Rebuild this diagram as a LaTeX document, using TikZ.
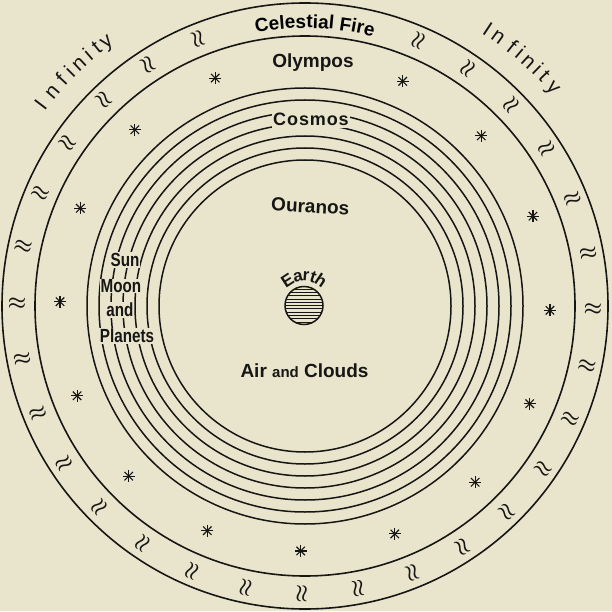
\documentclass[tikz,border=0pt]{standalone}
\usepackage{fontspec}
\setmainfont{Liberation Sans}
\newfontfamily\narrowfont[FakeStretch=0.8]{Liberation Sans}
\usetikzlibrary{decorations.text}
\definecolor{paper}{RGB}{233,229,205}
\definecolor{ink}{RGB}{22,22,20}
\tikzset{
    ring/.style = {
        draw=ink,
        line width=1.6pt
    },
    shell/.style = {
        draw=ink,
        line width=1.5pt
    },
    word/.style = {
        anchor=base,
        inner sep=0pt,
        font=\bfseries\fontsize{19}{19}\selectfont
    },
    cover/.style = {
        fill=paper,
        inner sep=0.8pt
    },
    column/.style = {
        cover,
        font=\narrowfont\bfseries\fontsize{19}{19}\selectfont
    },
    letter/.style = {
        anchor=base,
        inner sep=0pt
    },
    flame/.style = {
        inner sep=0pt,
        font=\boldmath\fontsize{21}{21}\selectfont
    },
    spark/.pic = {
        \foreach \s in {0,45,90,135}
            \path[draw, line width=1.1pt] (\s:6) -- (\s+180:6);
    }
}

\begin{document}
\begin{tikzpicture}[x=1pt, y=1pt, color=ink]

    \fill[paper] (0,0) rectangle (612,611);
    \useasboundingbox (0,0) rectangle (612,611);

    \coordinate (centre) at (305,305);
    \coordinate (globe) at (304,305.5);

    \path[draw, ring] (centre) circle[radius=303];
    \path[draw, ring] (centre) circle[radius=270];
    \foreach \r in {146,158,...,218}
        \path[draw, shell] (centre) circle[radius=\r];

    \foreach \k [evaluate=\k as \a using 66.75-11.25*\k] in {0,...,28}
        \node[flame, rotate=\a] (flame\k) at ([shift={(\a:288)}]centre) {$\approx$};

    \foreach \k [evaluate=\k as \a using 66.5-22.5*\k] in {0,...,14}
        \pic (star\k) at ([shift={(\a:245)}]centre) {spark};

    \path[decorate, decoration={text along path, text align=center,
        text={|\bfseries\fontsize{19}{19}\selectfont|Celestial Fire}}]
        ([shift={(113:278)}]centre) arc[start angle=113, end angle=63, radius=278];

    \foreach \ch/\a [count=\i] in {I/142.7, n/139.7, f/137.1, i/135.1, n/133, i/130.8, t/128.9, y/126.9}
        \node[letter, rotate=\a-90, font=\fontsize{21}{21}\selectfont] (infleft\i) at ([shift={(\a:325)}]centre) {\ch};
    \foreach \ch/\a [count=\i] in {I/56.6, n/54.3, f/51.4, i/49.6, n/47.6, i/45.5, t/43.8, y/41.4}
        \node[letter, rotate=\a-90, font=\fontsize{21}{21}\selectfont] (infright\i) at ([shift={(\a:325)}]centre) {\ch};

    \node[word] (olympos) at (313,543) {Olympos};
    \node[cover, inner ysep=3pt, anchor=north, font=\bfseries\addfontfeature{LetterSpace=5}\fontsize{18}{18}\selectfont] (cosmos) at (311,501.5) {Cosmos};
    \node[word, rotate=-3] (ouranos) at (310,398) {Ouranos};
    \node[word] (air) at (304.5,234) {Air {\fontsize{15}{15}\selectfont and} Clouds};

    \node[column] (sun) at (125,351) {Sun};
    \node[column] (moon) at (121,325) {Moon};
    \node[column] (andword) at (120,301) {and};
    \node[column] (planets) at (127,275) {Planets};

    \begin{scope}
        \clip (globe) circle[radius=19];
        \foreach \h in {-16.5,-13.2,...,16.6}
            \path[draw, line width=0.8pt] ([shift={(-20,\h)}]globe) -- ([shift={(20,\h)}]globe);
    \end{scope}
    \path[draw, line width=1.5pt] (globe) circle[radius=19];
    \foreach \ch/\a [count=\i] in {E/123, a/102, r/86, t/72, h/56}
        \node[letter, rotate=\a-90, font=\bfseries\fontsize{17}{17}\selectfont] (earth\i) at ([shift={(\a:24.5)}]globe) {\ch};

\end{tikzpicture}
\end{document}
